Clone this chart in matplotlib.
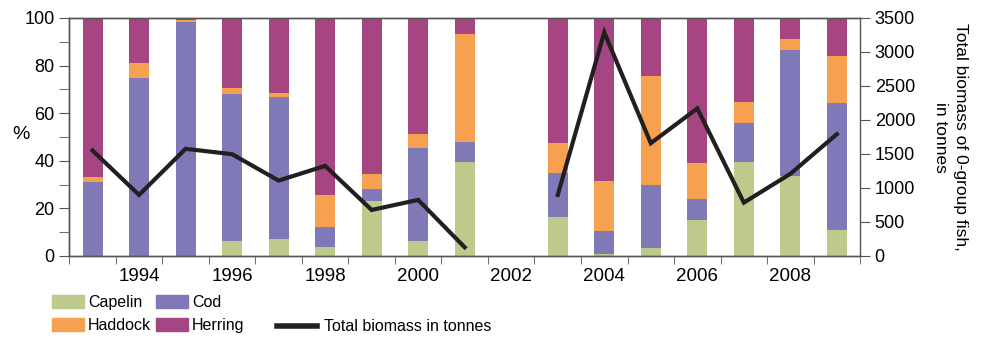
import numpy as np
import matplotlib.pyplot as plt
from matplotlib.patches import Patch
from matplotlib.lines import Line2D

plt.rcParams['font.family'] = ['Liberation Sans', 'DejaVu Sans']
plt.rcParams['font.size'] = 13

years = [1993, 1994, 1995, 1996, 1997, 1998, 1999, 2000, 2001,
         2003, 2004, 2005, 2006, 2007, 2008, 2009]

# share of each species in the 0-group biomass, %
capelin = [0.0, 0.0, 0.0, 6.5, 7.3, 3.9, 23.3, 6.5, 39.3,
           16.5, 0.8, 3.4, 15.1, 39.6, 33.4, 10.9]
cod = [30.9, 74.6, 98.2, 61.7, 59.3, 8.4, 5.0, 38.7, 8.4,
       18.3, 9.9, 26.3, 8.9, 16.1, 53.0, 53.3]
haddock = [2.2, 6.5, 1.1, 2.5, 1.7, 13.2, 6.2, 5.9, 45.4,
           12.6, 21.0, 45.8, 15.1, 9.1, 4.8, 19.7]
herring = [100 - a - b - c for a, b, c in zip(capelin, cod, haddock)]

# total biomass in tonnes, no survey in 2002
line_years = [1993, 1994, 1995, 1996, 1997, 1998, 1999, 2000, 2001, 2002,
              2003, 2004, 2005, 2006, 2007, 2008, 2009]
total = [1551, 898, 1576, 1497, 1109, 1325, 677, 825, 128, np.nan,
         898, 3289, 1659, 2170, 785, 1208, 1792]

c_capelin = '#bec98c'
c_cod = '#7f79b8'
c_haddock = '#f7a050'
c_herring = '#a54682'
c_axis = '#555555'
c_line = '#231f20'

fig = plt.figure(figsize=(9.81, 3.37), dpi=100)
ax = fig.add_axes([0.0706, 0.2404, 0.8062, 0.7062])
ax2 = ax.twinx()

w = 0.43
bottom = np.zeros(len(years))
for vals, col in [(capelin, c_capelin), (cod, c_cod),
                  (haddock, c_haddock), (herring, c_herring)]:
    ax.bar(years, vals, w, bottom=bottom, color=col, linewidth=0)
    bottom += np.array(vals)

ax2.plot(line_years, total, color=c_line, lw=3, solid_joinstyle='miter')

ax.set_xlim(1992.5, 2009.5)
ax.set_ylim(0, 100)
ax2.set_ylim(0, 3500)

ax.set_xticks(range(1994, 2009, 2))
ax.set_xticks(np.arange(1992.5, 2010, 1), minor=True)
ax.tick_params(axis='x', which='major', length=0, pad=9, labelsize=13.5)
ax.tick_params(axis='x', which='minor', length=6, color=c_axis, direction='out')
ax.set_yticks(range(0, 101, 20))
ax.set_yticks(range(10, 100, 20), minor=True)
ax.tick_params(axis='y', which='both', length=7, color=c_axis, direction='out')
ax2.set_yticks(range(0, 3501, 500))
ax2.tick_params(axis='y', length=7, color=c_axis, direction='out')

for a in (ax, ax2):
    for s in a.spines.values():
        s.set_color(c_axis)
        s.set_linewidth(1)
ax.spines['right'].set_visible(False)

fig.text(0.021, 0.6, '%', fontsize=14, ha='center', va='center')
ax2.set_ylabel('Total biomass of 0-group fish,\nin tonnes', rotation=270,
               fontsize=12.5, labelpad=38, linespacing=1.4)

bar_handles = [Patch(color=c_capelin, label='Capelin'),
               Patch(color=c_haddock, label='Haddock'),
               Patch(color=c_cod, label='Cod'),
               Patch(color=c_herring, label='Herring')]
fig.legend(handles=bar_handles, ncol=2, loc='upper left',
           bbox_to_anchor=(0.045, 0.148), frameon=False, fontsize=11.5,
           handlelength=2.0, handleheight=0.8, handletextpad=0.25,
           columnspacing=0.3, labelspacing=0.5, borderpad=0)
fig.legend(handles=[Line2D([], [], color=c_line, lw=4,
                           label='Total biomass in tonnes')],
           loc='upper left', bbox_to_anchor=(0.274, 0.076), frameon=False,
           fontsize=11.5, handlelength=2.5, handletextpad=0.45, borderpad=0)

fig.savefig('out.png', dpi=100)
